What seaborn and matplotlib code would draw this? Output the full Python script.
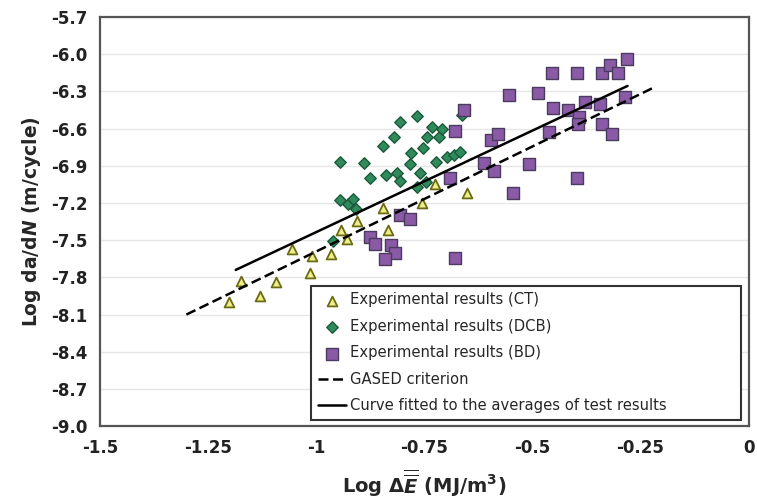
import matplotlib
matplotlib.use("Agg")
import matplotlib.pyplot as plt
import numpy as np
import pandas as pd
import seaborn as sns

# CT specimens (triangles)
ct_x = [-1.202, -1.174, -1.131, -1.094, -1.057, -1.014, -1.009, -0.966,
        -0.943, -0.929, -0.906, -0.846, -0.833, -0.755, -0.725, -0.651]
ct_y = [-7.998, -7.829, -7.950, -7.837, -7.571, -7.765, -7.627, -7.611,
        -7.418, -7.490, -7.345, -7.240, -7.418, -7.200, -7.047, -7.119]

# DCB specimens (diamonds)
dcb_x = [-0.945, -0.890, -0.876, -0.846, -0.839, -0.821, -0.807, -0.812,
         -0.807, -0.782, -0.780, -0.766, -0.761, -0.752, -0.743, -0.732,
         -0.722, -0.716, -0.709, -0.697, -0.681, -0.667, -0.745, -0.766,
         -0.945, -0.927, -0.915, -0.908, -0.961, -0.663]
dcb_y = [-6.869, -6.877, -6.998, -6.740, -6.974, -6.668, -6.547, -6.958,
         -7.023, -6.885, -6.797, -6.498, -6.958, -6.756, -6.668, -6.587,
         -6.869, -6.668, -6.603, -6.829, -6.813, -6.789, -7.031, -7.071,
         -7.176, -7.208, -7.168, -7.248, -7.506, -6.490]

# BD specimens (squares)
bd_x = [-0.659, -0.680, -0.691, -0.807, -0.782, -0.876, -0.865, -0.828,
        -0.817, -0.842, -0.680, -0.612, -0.589, -0.596, -0.580, -0.555,
        -0.486, -0.507, -0.546, -0.454, -0.397, -0.452, -0.417, -0.378,
        -0.392, -0.395, -0.461, -0.397, -0.344, -0.339, -0.321, -0.303,
        -0.282, -0.339, -0.317, -0.285]
bd_y = [-6.450, -6.619, -7.000, -7.298, -7.331, -7.476, -7.532, -7.540,
        -7.605, -7.653, -7.645, -6.877, -6.942, -6.692, -6.643, -6.329,
        -6.313, -6.885, -7.119, -6.152, -6.152, -6.434, -6.450, -6.386,
        -6.506, -6.563, -6.627, -6.998, -6.402, -6.152, -6.087, -6.152,
        -6.039, -6.563, -6.643, -6.345]

# GASED criterion and fitted curve (end points)
gased_x = [-1.30, -0.22]
gased_y = [-8.10, -6.27]
fit_x = [-1.186, -0.280]
fit_y = [-7.74, -6.256]

x_ticks = [-1.5, -1.25, -1.0, -0.75, -0.5, -0.25, 0.0]
x_tick_labels = ["-1.5", "-1.25", "-1", "-0.75", "-0.5", "-0.25", "0"]
y_ticks = np.round(np.arange(-9.0, -5.69, 0.3), 1)

sns.set_style("white")
plt.rcParams["font.family"] = ["DejaVu Sans"]
plt.rcParams["mathtext.fontset"] = "custom"
plt.rcParams["mathtext.rm"] = "DejaVu Sans:bold"
plt.rcParams["mathtext.it"] = "DejaVu Sans:italic:bold"
plt.rcParams["mathtext.bf"] = "DejaVu Sans:bold"

fig = plt.figure(figsize=(7.57, 4.99), dpi=100)
ax = fig.add_axes([0.132, 0.146, 0.857, 0.820])

ct = pd.DataFrame({"x": ct_x, "y": ct_y})
dcb = pd.DataFrame({"x": dcb_x, "y": dcb_y})
bd = pd.DataFrame({"x": bd_x, "y": bd_y})

sns.scatterplot(data=ct, x="x", y="y", ax=ax, marker="^", s=50,
                color="#eeee8c", edgecolor="#6b6b12", linewidth=1.3,
                label="Experimental results (CT)", zorder=3)
sns.scatterplot(data=dcb, x="x", y="y", ax=ax, marker="D", s=34,
                color="#2f8a5c", edgecolor="#1b5a3a", linewidth=1.0,
                label="Experimental results (DCB)", zorder=3)
sns.scatterplot(data=bd, x="x", y="y", ax=ax, marker="s", s=70,
                color="#8a5aa6", edgecolor="#4b3b5e", linewidth=1.0,
                label="Experimental results (BD)", zorder=3)
sns.lineplot(x=gased_x, y=gased_y, ax=ax, color="black", lw=1.8,
             linestyle=(0, (4, 1.8)), label="GASED criterion", zorder=4)
sns.lineplot(x=fit_x, y=fit_y, ax=ax, color="black", lw=1.8,
             label="Curve fitted to the averages of test results", zorder=4)

ax.set_xlim(-1.5, 0)
ax.set_ylim(-9.0, -5.7)
ax.set_xticks(x_ticks)
ax.set_xticklabels(x_tick_labels)
ax.set_yticks(y_ticks)
ax.set_yticklabels([f"{v:.1f}" for v in y_ticks])
ax.tick_params(axis="both", direction="out", length=5, width=1.2,
               color="#555555", labelsize=12, pad=4)
for lab in ax.get_xticklabels() + ax.get_yticklabels():
    lab.set_fontweight("bold")
    lab.set_color("#222222")

ax.yaxis.grid(True, color="#e6e6e6", lw=1.0)
ax.xaxis.grid(False)
for sp in ax.spines.values():
    sp.set_color("#555555")
    sp.set_linewidth(1.6)

ax.set_xlabel(r"Log $\Delta\overline{\overline{E}}$ (MJ/m$^3$)",
              fontsize=14, fontweight="bold", labelpad=8)
ax.set_ylabel(r"Log da/d$N$ (m/cycle)", fontsize=13.5, fontweight="bold",
              labelpad=6)

leg = ax.legend(loc="lower left", bbox_to_anchor=(0.326, 0.015, 0.662, 0.332),
                mode="expand", fontsize=10.6, frameon=True, fancybox=False,
                framealpha=1, edgecolor="#333333", handlelength=1.9,
                handletextpad=0.3, labelspacing=0.78, borderpad=0.45,
                borderaxespad=0)
leg.get_frame().set_linewidth(1.5)

fig.savefig("out.png", dpi=100)
